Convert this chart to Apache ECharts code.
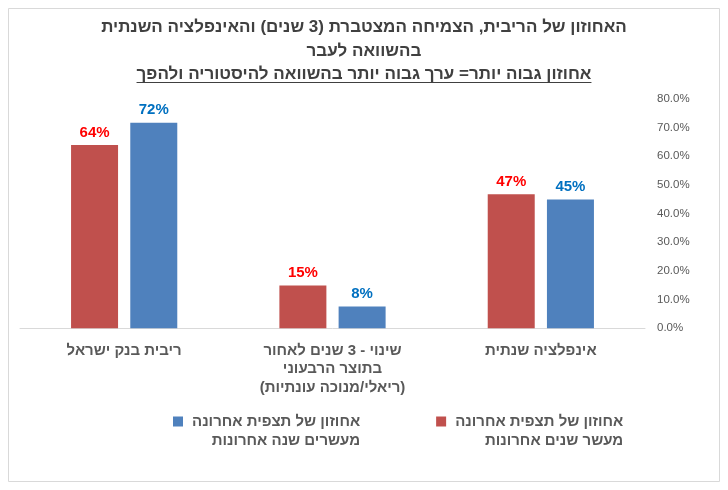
<!DOCTYPE html>
<html>
<head>
<meta charset="utf-8">
<script src="https://cdn.jsdelivr.net/npm/echarts@6/dist/echarts.min.js"></script>
<style>
  html, body { margin: 0; padding: 0; background: #fff; }
  #chart { width: 728px; height: 490px; }
</style>
</head>
<body>
<div id="chart"></div>
<script>
// categories, left to right as drawn
var categories = [
  'ריבית בנק ישראל',
  'שינוי - 3 שנים לאחור\nבתוצר הרבעוני\n(ריאלי/מנוכה עונתיות)',
  'אינפלציה שנתית'
]
var tenYears = [63.9, 14.9, 46.7]
var twentyYears = [71.6, 7.6, 44.9]
var tenYearsName = ['אחוזון של תצפית אחרונה', 'מעשר שנים אחרונות']
var twentyYearsName = ['אחוזון של תצפית אחרונה', 'מעשרים שנה אחרונות']
var yTicks = { min: 0, max: 80, interval: 10 }
var titleLines = [
  'האחוזון של הריבית, הצמיחה המצטברת (3 שנים) והאינפלציה השנתית',
  'בהשוואה לעבר',
  'אחוזון גבוה יותר= ערך גבוה יותר בהשוואה להיסטוריה ולהפך'
]

var FONT = '"Liberation Sans", Arial, sans-serif'
var GRAY = '#595959'

// width of the underlined title line, for the underline
var cv = document.createElement('canvas').getContext('2d')
cv.font = 'bold 17px ' + FONT
var underlineW = cv.measureText(titleLines[2]).width

var tenName = tenYearsName.join(' ')
var twentyName = twentyYearsName.join(' ')
var legendText = {}
legendText[tenName] = tenYearsName
legendText[twentyName] = twentyYearsName

var myChart = echarts.init(document.getElementById('chart'))
var option = {
  backgroundColor: '#fff',
  animation: false,
  title: {
    text: '{a|' + titleLines[0] + '}\n{a|' + titleLines[1] + '}\n{a|' + titleLines[2] + '}',
    left: 364,
    top: 16,
    textAlign: 'center',
    padding: 0,
    textStyle: {
      rich: {
        a: { fontFamily: FONT, fontSize: 17, fontWeight: 'bold', color: '#404040', lineHeight: 23.5 }
      }
    }
  },
  graphic: [
    {
      type: 'rect',
      shape: { x: 8.5, y: 8.5, width: 711, height: 473 },
      style: { fill: 'none', stroke: '#d9d9d9', lineWidth: 1 },
      silent: true
    },
    {
      type: 'line',
      shape: { x1: 364 - underlineW / 2, y1: 82.5, x2: 364 + underlineW / 2, y2: 82.5 },
      style: { stroke: '#404040', lineWidth: 1.2 },
      silent: true
    }
  ],
  legend: {
    data: [twentyName, tenName],
    left: 173,
    top: 395,
    padding: 0,
    itemWidth: 10,
    itemHeight: 10,
    itemGap: 76,
    icon: 'rect',
    formatter: function (name) {
      var l = legendText[name]
      return '{r|\u00a0}\n{r|' + l[0] + '}\n{r|' + l[1] + '}'
    },
    textStyle: {
      rich: {
        r: { align: 'right', fontFamily: FONT, fontSize: 15, fontWeight: 'bold', color: GRAY, lineHeight: 19, padding: [0, 0, 0, 4] }
      }
    }
  },
  grid: { left: 20, right: 83, top: 98.7, bottom: 161.7, containLabel: false },
  xAxis: {
    type: 'category',
    data: categories,
    axisLine: { lineStyle: { color: '#d9d9d9', width: 1 } },
    axisTick: { show: false },
    axisLabel: {
      interval: 0,
      margin: 13,
      fontFamily: FONT,
      fontSize: 15,
      fontWeight: 'bold',
      color: GRAY,
      lineHeight: 18.5
    }
  },
  yAxis: {
    type: 'value',
    position: 'right',
    min: yTicks.min,
    max: yTicks.max,
    interval: yTicks.interval,
    splitLine: { show: false },
    axisLine: { show: false },
    axisTick: { show: false },
    axisLabel: {
      margin: 12,
      fontFamily: FONT,
      fontSize: 11.5,
      color: GRAY,
      formatter: function (v) { return v.toFixed(1) + '%' }
    }
  },
  series: [
    {
      name: tenName,
      type: 'bar',
      data: tenYears,
      barWidth: 47,
      barGap: '26%',
      itemStyle: { color: '#C0504D' },
      label: {
        show: true,
        position: 'top',
        distance: 5,
        fontFamily: FONT,
        fontSize: 15,
        fontWeight: 'bold',
        color: '#FF0000',
        formatter: function (p) { return Math.round(p.value) + '%' }
      }
    },
    {
      name: twentyName,
      type: 'bar',
      data: twentyYears,
      barWidth: 47,
      barGap: '26%',
      itemStyle: { color: '#4F81BD' },
      label: {
        show: true,
        position: 'top',
        distance: 5,
        fontFamily: FONT,
        fontSize: 15,
        fontWeight: 'bold',
        color: '#0070C0',
        formatter: function (p) { return Math.round(p.value) + '%' }
      }
    }
  ]
}
myChart.setOption(option)
</script>
</body>
</html>
